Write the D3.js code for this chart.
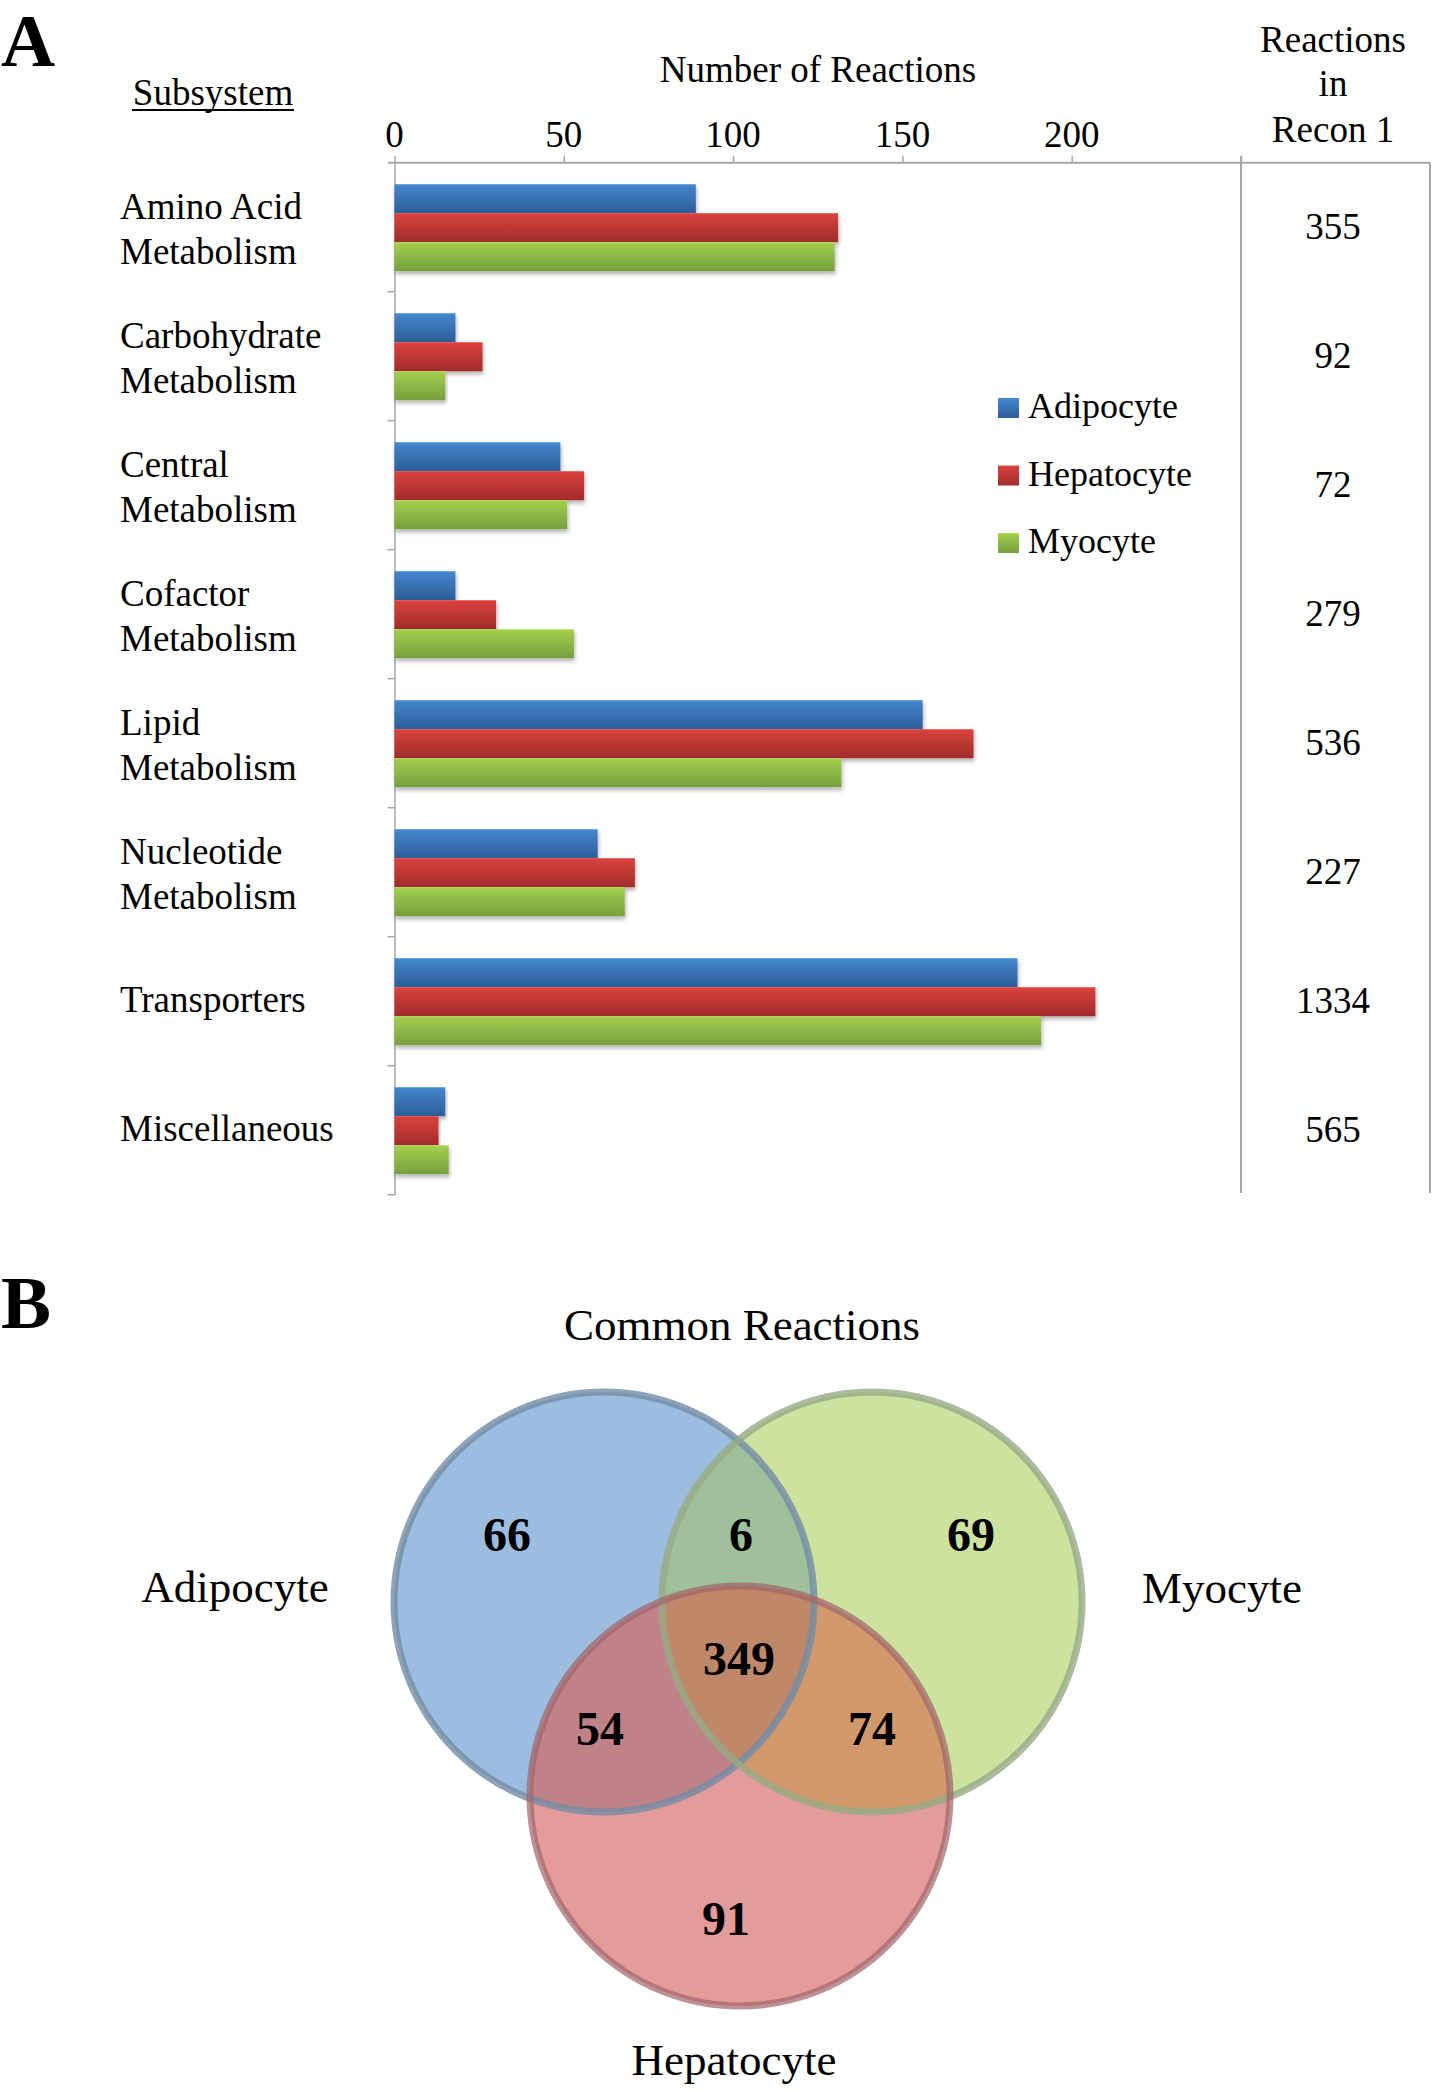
<!DOCTYPE html>
<html>
<head>
<meta charset="utf-8">
<script src="https://cdn.jsdelivr.net/npm/d3@7"></script>
<style>
  body { margin: 0; background: #fff; }
  svg { display: block; }
  text { font-family: 'Liberation Serif', 'Times New Roman', serif; fill: #000; }
</style>
</head>
<body>
<svg id="chart" width="1432" height="2091"></svg>
<script>
// ---------------- DATA ----------------
const categories = ["Amino Acid Metabolism", "Carbohydrate Metabolism", "Central Metabolism",
  "Cofactor Metabolism", "Lipid Metabolism", "Nucleotide Metabolism", "Transporters", "Miscellaneous"];
const categoryLines = [["Amino Acid", "Metabolism"], ["Carbohydrate", "Metabolism"], ["Central", "Metabolism"],
  ["Cofactor", "Metabolism"], ["Lipid", "Metabolism"], ["Nucleotide", "Metabolism"], ["Transporters"], ["Miscellaneous"]];
const seriesNames = ["Adipocyte", "Hepatocyte", "Myocyte"];
const adipocyte  = [89, 18, 49, 18, 156, 60, 184, 15];
const hepatocyte = [131, 26, 56, 30, 171, 71, 207, 13];
const myocyte    = [130, 15, 51, 53, 132, 68, 191, 16];
const reconReactions = [355, 92, 72, 279, 536, 227, 1334, 565];
const xTicks = [0, 50, 100, 150, 200];

// Venn counts
const vennSets = ["Adipocyte", "Myocyte", "Hepatocyte"];
const vennOnlyA = 66, vennOnlyM = 69, vennOnlyH = 91;
const vennAM = 6, vennAH = 54, vennMH = 74, vennAMH = 349;

// ---------------- PANEL A ----------------
const svg = d3.select("#chart");
const FONT = 37;

svg.append("text").attr("x", 1).attr("y", 66).style("font-size", "75px").style("font-weight", "bold").text("A");

const x = d3.scaleLinear().domain([0, 250]).range([394.5, 1241]);
const y = d3.scaleBand().domain(categories).range([162.7, 1194.7]).padding(0);
const ySub = d3.scaleBand().domain(seriesNames).range([21.5, 108.5]).padding(0);

const defs = svg.append("defs");
const gradSpec = {
  Adipocyte:  ["#4484cb", "#2c5d98"],
  Hepatocyte: ["#d6413c", "#a22b2b"],
  Myocyte:    ["#a2cc4c", "#779f3f"]
};
Object.entries(gradSpec).forEach(([k, c]) => {
  const g = defs.append("linearGradient").attr("id", "g_" + k).attr("x1", 0).attr("y1", 0).attr("x2", 0).attr("y2", 1);
  g.append("stop").attr("offset", "0%").attr("stop-color", d3.color(c[0]).brighter(0.3));
  g.append("stop").attr("offset", "6%").attr("stop-color", c[0]);
  g.append("stop").attr("offset", "100%").attr("stop-color", c[1]);
});
const shadow = defs.append("filter").attr("id", "shadow").attr("x", "-5%").attr("y", "-20%").attr("width", "110%").attr("height", "160%");
shadow.append("feDropShadow").attr("dx", 1).attr("dy", 3).attr("stdDeviation", 2).attr("flood-color", "#000").attr("flood-opacity", 0.3);

// axis lines
const axisColor = "#a6a6a6";
const xAxis = d3.axisTop(x).tickValues([0, 50, 100, 150, 200, 250]).tickSize(7).tickFormat("");
const gx = svg.append("g").attr("transform", `translate(0,${y.range()[0]})`).call(xAxis);
gx.select(".domain").remove();
gx.selectAll(".tick line").attr("stroke", axisColor).attr("stroke-width", 1.5);
svg.append("line").attr("x1", 388).attr("x2", 1430).attr("y1", y.range()[0]).attr("y2", y.range()[0])
  .attr("stroke", axisColor).attr("stroke-width", 2);
svg.append("g").selectAll("text").data(xTicks).join("text")
  .attr("x", d => x(d)).attr("y", 147).attr("text-anchor", "middle").style("font-size", FONT + "px").text(d => d);

// left axis
const yAxis = d3.axisLeft(y).tickSize(0).tickFormat("");
const gy = svg.append("g").attr("transform", `translate(${x(0)},0)`).call(yAxis);
gy.select(".domain").attr("stroke", axisColor).attr("stroke-width", 1.5);
const bounds = categories.map(c => y(c)).concat([y.range()[1]]);
svg.append("g").selectAll("line").data(bounds.slice(1)).join("line")
  .attr("x1", x(0) - 7).attr("x2", x(0)).attr("y1", d => d).attr("y2", d => d)
  .attr("stroke", axisColor).attr("stroke-width", 1.5);

// table lines
svg.append("line").attr("x1", x(250)).attr("x2", x(250)).attr("y1", 156).attr("y2", 1193).attr("stroke", axisColor).attr("stroke-width", 2);
svg.append("line").attr("x1", 1430).attr("x2", 1430).attr("y1", y.range()[0]).attr("y2", 1193).attr("stroke", axisColor).attr("stroke-width", 2);

// bars
const rows = categories.map((c, i) => ({
  cat: c,
  vals: [["Adipocyte", adipocyte[i]], ["Hepatocyte", hepatocyte[i]], ["Myocyte", myocyte[i]]]
}));
const barG = svg.append("g").selectAll("g").data(rows).join("g")
  .attr("transform", d => `translate(0,${y(d.cat)})`);
barG.selectAll("rect").data(d => d.vals).join("rect")
  .attr("x", x(0)).attr("y", d => ySub(d[0]))
  .attr("width", d => x(d[1]) - x(0)).attr("height", ySub.bandwidth())
  .attr("fill", d => `url(#g_${d[0]})`).attr("filter", "url(#shadow)");

// category labels
categories.forEach((c, i) => {
  const cy = y(c) + y.bandwidth() / 2;
  const lines = categoryLines[i];
  const t = svg.append("text").attr("x", 120).style("font-size", FONT + "px");
  if (lines.length === 2) {
    t.append("tspan").attr("x", 120).attr("y", cy - 8).text(lines[0]);
    t.append("tspan").attr("x", 120).attr("y", cy + 37).text(lines[1]);
  } else {
    t.attr("y", cy + 11).text(lines[0]);
  }
});

// recon numbers
svg.append("g").selectAll("text").data(categories).join("text")
  .attr("x", 1333).attr("y", d => y(d) + y.bandwidth() / 2 + 12).attr("text-anchor", "middle")
  .style("font-size", FONT + "px").text((d, i) => reconReactions[i]);

// headers
svg.append("text").attr("x", 213).attr("y", 105).attr("text-anchor", "middle").style("font-size", FONT + "px").text("Subsystem");
svg.append("line").attr("x1", 132).attr("x2", 294).attr("y1", 110).attr("y2", 110).attr("stroke", "#000").attr("stroke-width", 2);
svg.append("text").attr("x", 818).attr("y", 82).attr("text-anchor", "middle").style("font-size", FONT + "px").text("Number of Reactions");
const hdr = svg.append("text").attr("text-anchor", "middle").style("font-size", FONT + "px");
[["Reactions", 52], ["in", 96], ["Recon 1", 142]].forEach(([s, yy]) =>
  hdr.append("tspan").attr("x", 1333).attr("y", yy).text(s));

// legend
const legend = svg.append("g").selectAll("g").data(seriesNames).join("g")
  .attr("transform", (d, i) => `translate(998,${398 + i * 67.5})`);
legend.append("rect").attr("width", 21).attr("height", 20).attr("fill", d => `url(#g_${d})`);
legend.append("text").attr("x", 30).attr("y", 20).style("font-size", "36px").text(d => d);

// ---------------- PANEL B (Venn) ----------------
svg.append("text").attr("x", 1).attr("y", 1328).style("font-size", "75px").style("font-weight", "bold").text("B");

const R = 210;
const circ = {
  Adipocyte: { cx: 604, cy: 1602 },
  Myocyte:   { cx: 872, cy: 1602 },
  Hepatocyte:{ cx: 740, cy: 1796 }
};
vennSets.forEach(s => {
  defs.append("clipPath").attr("id", "clip_" + s)
    .append("circle").attr("cx", circ[s].cx).attr("cy", circ[s].cy).attr("r", R);
});
const vg = svg.append("g");
const fills = { Adipocyte: "#9dbde0", Myocyte: "#cee2a0", Hepatocyte: "#e49b9b" };
vennSets.forEach(s => {
  vg.append("circle").attr("cx", circ[s].cx).attr("cy", circ[s].cy).attr("r", R).attr("fill", fills[s]);
});
function region(target, clips, color) {
  let inner = vg.append("g");
  clips.forEach(c => { inner = inner.append("g").attr("clip-path", `url(#clip_${c})`); });
  inner.append("circle").attr("cx", circ[target].cx).attr("cy", circ[target].cy).attr("r", R).attr("fill", color);
}
region("Myocyte", ["Adipocyte"], "#9fc09b");
region("Hepatocyte", ["Adipocyte"], "#c08289");
region("Hepatocyte", ["Myocyte"], "#d2996d");
region("Hepatocyte", ["Adipocyte", "Myocyte"], "#be8869");

const strokes = { Adipocyte: "rgba(115,140,165,0.8)", Myocyte: "rgba(150,170,132,0.8)", Hepatocyte: "rgba(160,100,105,0.7)" };
vennSets.forEach(s => {
  vg.append("circle").attr("cx", circ[s].cx).attr("cy", circ[s].cy).attr("r", R)
    .attr("fill", "none").attr("stroke", strokes[s]).attr("stroke-width", 7);
});

const A = circ.Adipocyte, M = circ.Myocyte, H = circ.Hepatocyte;
const counts = [
  [vennOnlyA, A.cx - 97, A.cy - 51],
  [vennAM, (A.cx + M.cx) / 2 + 3, A.cy - 51],
  [vennOnlyM, M.cx + 99, M.cy - 51],
  [vennAMH, H.cx - 1, A.cy + 73],
  [vennAH, A.cx - 4, A.cy + 143],
  [vennMH, M.cx, M.cy + 143],
  [vennOnlyH, H.cx - 14, H.cy + 139]
];
vg.selectAll("text.count").data(counts).join("text").attr("class", "count")
  .attr("x", d => d[1]).attr("y", d => d[2]).attr("text-anchor", "middle")
  .style("font-size", "48px").style("font-weight", "bold").text(d => d[0]);

const vLabels = [["Common Reactions", 742, 1340], ["Adipocyte", 235, 1602], ["Myocyte", 1222, 1603], ["Hepatocyte", 734, 2075]];
svg.append("g").selectAll("text").data(vLabels).join("text")
  .attr("x", d => d[1]).attr("y", d => d[2]).attr("text-anchor", "middle").style("font-size", "45px").text(d => d[0]);
</script>
</body>
</html>
